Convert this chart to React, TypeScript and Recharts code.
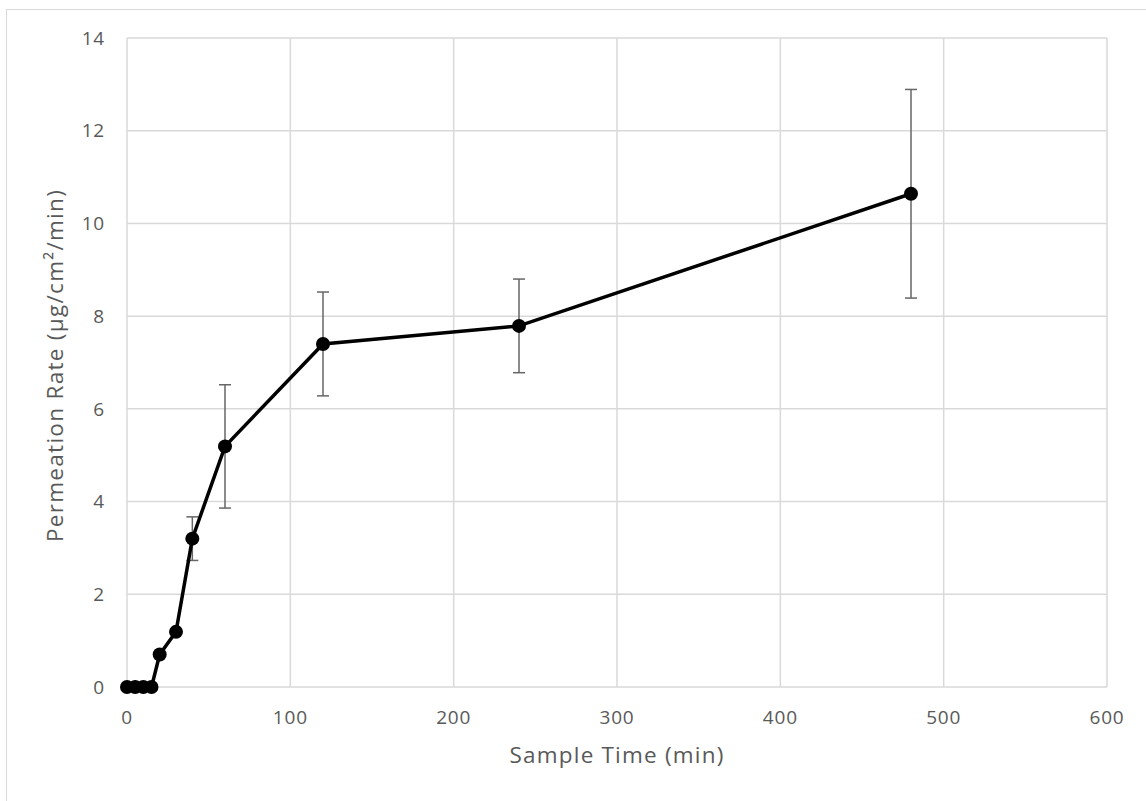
import {
  ComposedChart,
  Line,
  XAxis,
  YAxis,
  CartesianGrid,
  ErrorBar,
  Label,
} from "recharts";

// sample times (min)
const times = [0, 5, 10, 15, 20, 30, 40, 60, 120, 240, 480];
// permeation rate (µg/cm²/min)
const rates = [0, 0, 0, 0, 0.7, 1.19, 3.2, 5.19, 7.4, 7.79, 10.64];
// ± error (null = no bar drawn)
const errors = [null, null, null, null, null, null, 0.47, 1.33, 1.12, 1.01, 2.25];

const xTicks = [0, 100, 200, 300, 400, 500, 600];
const yTicks = [0, 2, 4, 6, 8, 10, 12, 14];

const data = times.map((t, i) => ({
  time: t,
  rate: rates[i],
  err: errors[i] ?? undefined,
}));

const FONT = "'Open Sans', 'Noto Sans', sans-serif";
const GREY = "#595959";

const XTitle = ({ viewBox }: any) => (
  <text
    x={viewBox.x + viewBox.width / 2}
    y={viewBox.y + 76}
    textAnchor="middle"
    fill={GREY}
    fontSize={22.5}
    letterSpacing={1.2}
    fontFamily={FONT}
  >
    Sample Time (min)
  </text>
);

const YTitle = ({ viewBox }: any) => {
  const cx = 63;
  const cy = viewBox.y + viewBox.height / 2 + 3;
  return (
    <text
      x={cx}
      y={cy}
      transform={`rotate(-90, ${cx}, ${cy})`}
      textAnchor="middle"
      fill={GREY}
      fontSize={22.5}
      letterSpacing={1.3}
      fontFamily={FONT}
    >
      Permeation Rate (µg/cm²/min)
    </text>
  );
};

export default function App() {
  return (
    <div
      style={{
        position: "absolute",
        left: 0,
        top: 0,
        width: 1146,
        height: 801,
        background: "#fff",
        overflow: "hidden",
      }}
    >
      <div
        style={{
          position: "absolute",
          left: 6,
          top: 9,
          width: 1200,
          height: 900,
          borderLeft: "1.5px solid #d9d9d9",
          borderTop: "1.5px solid #d9d9d9",
        }}
      />
      <ComposedChart
        width={1146}
        height={801}
        data={data}
        margin={{ top: 38, right: 39, left: 0, bottom: 0 }}
        style={{ position: "absolute", left: 0, top: 0 }}
      >
        <CartesianGrid stroke="#d9d9d9" strokeWidth={1.5} />
        <XAxis
          dataKey="time"
          type="number"
          domain={[0, 600]}
          ticks={xTicks}
          axisLine={false}
          tickLine={false}
          tickSize={0}
          tickMargin={24}
          height={114}
          tick={{ fill: GREY, fontSize: 19, fontFamily: FONT, letterSpacing: 0.8 }}
          interval={0}
        >
          <Label content={<XTitle />} />
        </XAxis>
        <YAxis
          type="number"
          domain={[0, 14]}
          ticks={yTicks}
          axisLine={false}
          tickLine={false}
          tickSize={0}
          tickMargin={22}
          width={127}
          tick={{ fill: GREY, fontSize: 19, fontFamily: FONT, letterSpacing: 0.8 }}
          interval={0}
        >
          <Label content={<YTitle />} />
        </YAxis>
        <Line
          dataKey="rate"
          stroke="#000"
          strokeWidth={3.5}
          isAnimationActive={false}
          dot={{ r: 7, fill: "#000", stroke: "#000", strokeWidth: 0 }}
          activeDot={false}
        >
          <ErrorBar
            dataKey="err"
            direction="y"
            width={6}
            stroke="#666"
            strokeWidth={1.5}
          />
        </Line>
      </ComposedChart>
    </div>
  );
}
